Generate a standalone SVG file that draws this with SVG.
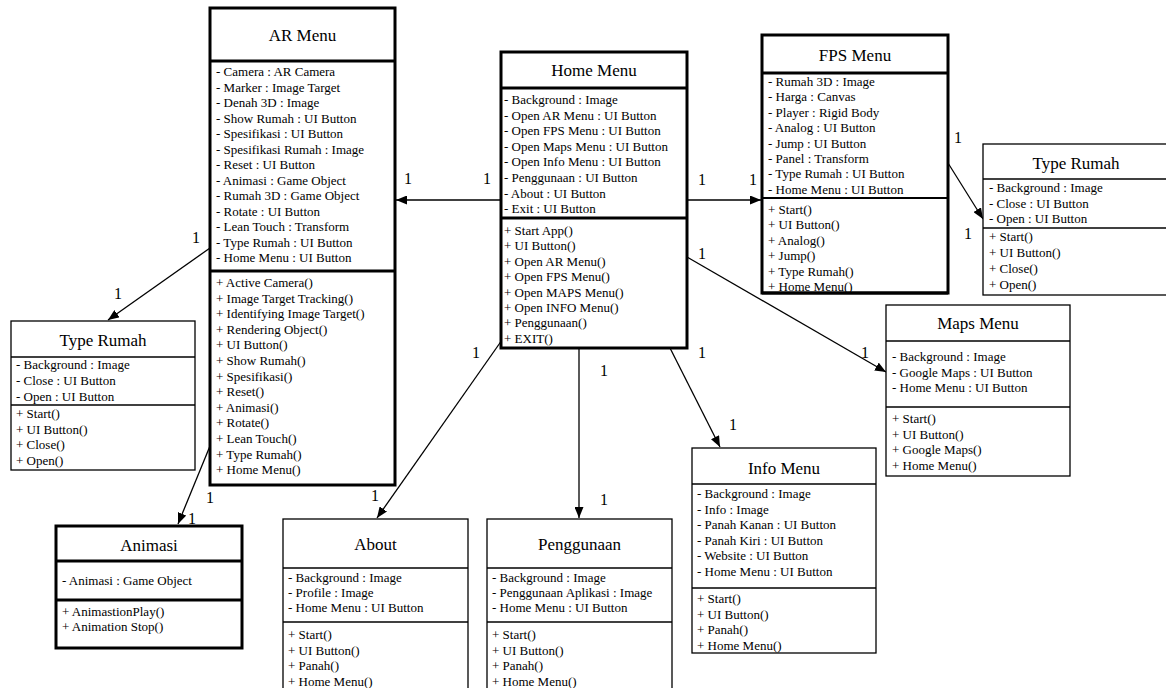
<svg xmlns="http://www.w3.org/2000/svg" width="1166" height="688" viewBox="0 0 1166 688">
<defs>
<marker id="arr" markerUnits="userSpaceOnUse" markerWidth="11" markerHeight="9" refX="11" refY="4.5" orient="auto">
<path d="M0,0 L11,4.5 L0,9 z" fill="#000"/>
</marker>
</defs>
<style>
text{font-family:"Liberation Serif","Times New Roman",serif;fill:#000}
.t{font-size:17px;text-anchor:middle}
.a{font-size:13px}
.m{font-size:16px;text-anchor:middle}
.bx{fill:#fff;stroke:#000}
.thick{stroke-width:3}
.thin{stroke-width:1.3}
.ln{stroke:#000;fill:none}
.c{stroke:#000;stroke-width:1.3;fill:none;marker-end:url(#arr)}
</style>
<rect width="1166" height="688" fill="#fff"/>

<g id="connectors">
<line class="c" x1="501" y1="200" x2="396" y2="200"/>
<line class="c" x1="687" y1="200" x2="761" y2="200"/>
<line class="c" x1="948" y1="163" x2="983" y2="219"/>
<line class="c" x1="687" y1="257" x2="886" y2="372"/>
<line class="c" x1="670" y1="348" x2="720" y2="447"/>
<line class="c" x1="579" y1="348" x2="579" y2="518"/>
<line class="c" x1="502" y1="340" x2="377" y2="518"/>
<line class="c" x1="210" y1="248" x2="108" y2="320"/>
<line class="c" x1="210" y1="446" x2="178" y2="524"/>
<g id="labels">
<text class="m" x="408" y="184">1</text>
<text class="m" x="487" y="184">1</text>
<text class="m" x="702" y="185">1</text>
<text class="m" x="753" y="185">1</text>
<text class="m" x="958" y="143">1</text>
<text class="m" x="968" y="239">1</text>
<text class="m" x="702" y="259">1</text>
<text class="m" x="865" y="358">1</text>
<text class="m" x="702" y="358">1</text>
<text class="m" x="733" y="430">1</text>
<text class="m" x="604" y="376">1</text>
<text class="m" x="604" y="505">1</text>
<text class="m" x="476" y="358">1</text>
<text class="m" x="375" y="501">1</text>
<text class="m" x="196" y="243">1</text>
<text class="m" x="118" y="299">1</text>
<text class="m" x="210" y="503">1</text>
<text class="m" x="192" y="524">1</text>
</g>
</g>

<g id="ar-menu">
<rect class="bx thick" x="210" y="8" width="185" height="477"/>
<line class="ln thick" x1="210" y1="61" x2="395" y2="61"/>
<line class="ln thick" x1="210" y1="271" x2="395" y2="271"/>
<text class="t" x="302.5" y="40.5">AR Menu</text>
<text class="a" x="216" y="76">
<tspan x="216">- Camera : AR Camera</tspan>
<tspan x="216" dy="15.5">- Marker : Image Target</tspan>
<tspan x="216" dy="15.5">- Denah 3D : Image</tspan>
<tspan x="216" dy="15.5">- Show Rumah : UI Button</tspan>
<tspan x="216" dy="15.5">- Spesifikasi : UI Button</tspan>
<tspan x="216" dy="15.5">- Spesifikasi Rumah : Image</tspan>
<tspan x="216" dy="15.5">- Reset : UI Button</tspan>
<tspan x="216" dy="15.5">- Animasi : Game Object</tspan>
<tspan x="216" dy="15.5">- Rumah 3D : Game Object</tspan>
<tspan x="216" dy="15.5">- Rotate : UI Button</tspan>
<tspan x="216" dy="15.5">- Lean Touch : Transform</tspan>
<tspan x="216" dy="15.5">- Type Rumah : UI Button</tspan>
<tspan x="216" dy="15.5">- Home Menu : UI Button</tspan>
</text>
<text class="a" x="216" y="287">
<tspan x="216">+ Active Camera()</tspan>
<tspan x="216" dy="15.6">+ Image Target Tracking()</tspan>
<tspan x="216" dy="15.6">+ Identifying Image Target()</tspan>
<tspan x="216" dy="15.6">+ Rendering Object()</tspan>
<tspan x="216" dy="15.6">+ UI Button()</tspan>
<tspan x="216" dy="15.6">+ Show Rumah()</tspan>
<tspan x="216" dy="15.6">+ Spesifikasi()</tspan>
<tspan x="216" dy="15.6">+ Reset()</tspan>
<tspan x="216" dy="15.6">+ Animasi()</tspan>
<tspan x="216" dy="15.6">+ Rotate()</tspan>
<tspan x="216" dy="15.6">+ Lean Touch()</tspan>
<tspan x="216" dy="15.6">+ Type Rumah()</tspan>
<tspan x="216" dy="15.6">+ Home Menu()</tspan>
</text>
</g>

<g id="home-menu">
<rect class="bx thick" x="501" y="52" width="186" height="296"/>
<line class="ln thick" x1="501" y1="88" x2="687" y2="88"/>
<line class="ln thick" x1="501" y1="218" x2="687" y2="218"/>
<text class="t" x="594" y="75.5">Home Menu</text>
<text class="a" x="504" y="104">
<tspan x="504">- Background : Image</tspan>
<tspan x="504" dy="15.6">- Open AR Menu : UI Button</tspan>
<tspan x="504" dy="15.6">- Open FPS Menu : UI Button</tspan>
<tspan x="504" dy="15.6">- Open Maps Menu : UI Button</tspan>
<tspan x="504" dy="15.6">- Open Info Menu : UI Button</tspan>
<tspan x="504" dy="15.6">- Penggunaan : UI Button</tspan>
<tspan x="504" dy="15.6">- About : UI Button</tspan>
<tspan x="504" dy="15.6">- Exit : UI Button</tspan>
</text>
<text class="a" x="504" y="235">
<tspan x="504">+ Start App()</tspan>
<tspan x="504" dy="15.4">+ UI Button()</tspan>
<tspan x="504" dy="15.4">+ Open AR Menu()</tspan>
<tspan x="504" dy="15.4">+ Open FPS Menu()</tspan>
<tspan x="504" dy="15.4">+ Open MAPS Menu()</tspan>
<tspan x="504" dy="15.4">+ Open INFO Menu()</tspan>
<tspan x="504" dy="15.4">+ Penggunaan()</tspan>
<tspan x="504" dy="15.4">+ EXIT()</tspan>
</text>
</g>

<g id="fps-menu">
<rect class="bx thick" x="762" y="35" width="186" height="258"/>
<line class="ln thick" x1="762" y1="73" x2="948" y2="73"/>
<line class="ln" stroke-width="2" x1="762" y1="198" x2="948" y2="198"/>
<text class="t" x="855" y="60.5">FPS Menu</text>
<text class="a" x="768" y="86">
<tspan x="768">- Rumah 3D : Image</tspan>
<tspan x="768" dy="15.4">- Harga : Canvas</tspan>
<tspan x="768" dy="15.4">- Player : Rigid Body</tspan>
<tspan x="768" dy="15.4">- Analog : UI Button</tspan>
<tspan x="768" dy="15.4">- Jump : UI Button</tspan>
<tspan x="768" dy="15.4">- Panel : Transform</tspan>
<tspan x="768" dy="15.4">- Type Rumah : UI Button</tspan>
<tspan x="768" dy="15.4">- Home Menu : UI Button</tspan>
</text>
<text class="a" x="768" y="214">
<tspan x="768">+ Start()</tspan>
<tspan x="768" dy="15.4">+ UI Button()</tspan>
<tspan x="768" dy="15.4">+ Analog()</tspan>
<tspan x="768" dy="15.4">+ Jump()</tspan>
<tspan x="768" dy="15.4">+ Type Rumah()</tspan>
<tspan x="768" dy="15.4">+ Home Menu()</tspan>
</text>
<line class="ln thick" x1="762" y1="293" x2="948" y2="293"/>
</g>

<g id="type-rumah-right">
<rect class="bx thin" x="983" y="144" width="186" height="151"/>
<line class="ln thin" x1="983" y1="179" x2="1169" y2="179"/>
<line class="ln thin" x1="983" y1="228" x2="1169" y2="228"/>
<text class="t" x="1076" y="168.5">Type Rumah</text>
<text class="a" x="989" y="192">
<tspan x="989">- Background : Image</tspan>
<tspan x="989" dy="15.5">- Close : UI Button</tspan>
<tspan x="989" dy="15.5">- Open : UI Button</tspan>
</text>
<text class="a" x="989" y="241">
<tspan x="989">+ Start()</tspan>
<tspan x="989" dy="16">+ UI Button()</tspan>
<tspan x="989" dy="16">+ Close()</tspan>
<tspan x="989" dy="16">+ Open()</tspan>
</text>
</g>

<g id="type-rumah-left">
<rect class="bx thin" x="11" y="321" width="184" height="149"/>
<line class="ln thin" x1="11" y1="357" x2="195" y2="357"/>
<line class="ln thin" x1="11" y1="405" x2="195" y2="405"/>
<text class="t" x="103" y="345.5">Type Rumah</text>
<text class="a" x="16" y="369">
<tspan x="16">- Background : Image</tspan>
<tspan x="16" dy="16">- Close : UI Button</tspan>
<tspan x="16" dy="16">- Open : UI Button</tspan>
</text>
<text class="a" x="16" y="418">
<tspan x="16">+ Start()</tspan>
<tspan x="16" dy="15.7">+ UI Button()</tspan>
<tspan x="16" dy="15.7">+ Close()</tspan>
<tspan x="16" dy="15.7">+ Open()</tspan>
</text>
</g>

<g id="animasi">
<rect class="bx thick" x="56" y="526" width="186" height="122"/>
<line class="ln thick" x1="56" y1="561" x2="242" y2="561"/>
<line class="ln thick" x1="56" y1="600" x2="242" y2="600"/>
<text class="t" x="149" y="550.5">Animasi</text>
<text class="a" x="62" y="585">- Animasi : Game Object</text>
<text class="a" x="62" y="616">
<tspan x="62">+ AnimastionPlay()</tspan>
<tspan x="62" dy="15">+ Animation Stop()</tspan>
</text>
</g>

<g id="about">
<rect class="bx thin" x="283" y="519" width="185" height="175"/>
<line class="ln thin" x1="283" y1="568" x2="468" y2="568"/>
<line class="ln thin" x1="283" y1="622" x2="468" y2="622"/>
<text class="t" x="375.5" y="549.5">About</text>
<text class="a" x="288" y="582">
<tspan x="288">- Background : Image</tspan>
<tspan x="288" dy="15">- Profile : Image</tspan>
<tspan x="288" dy="15">- Home Menu : UI Button</tspan>
</text>
<text class="a" x="288" y="639">
<tspan x="288">+ Start()</tspan>
<tspan x="288" dy="15.7">+ UI Button()</tspan>
<tspan x="288" dy="15.7">+ Panah()</tspan>
<tspan x="288" dy="15.7">+ Home Menu()</tspan>
</text>
</g>

<g id="penggunaan">
<rect class="bx thin" x="487" y="519" width="185" height="175"/>
<line class="ln thin" x1="487" y1="568" x2="672" y2="568"/>
<line class="ln thin" x1="487" y1="622" x2="672" y2="622"/>
<text class="t" x="579.5" y="549.5">Penggunaan</text>
<text class="a" x="492" y="582">
<tspan x="492">- Background : Image</tspan>
<tspan x="492" dy="15">- Penggunaan Aplikasi : Image</tspan>
<tspan x="492" dy="15">- Home Menu : UI Button</tspan>
</text>
<text class="a" x="492" y="639">
<tspan x="492">+ Start()</tspan>
<tspan x="492" dy="15.7">+ UI Button()</tspan>
<tspan x="492" dy="15.7">+ Panah()</tspan>
<tspan x="492" dy="15.7">+ Home Menu()</tspan>
</text>
</g>

<g id="info-menu">
<rect class="bx thin" x="692" y="448" width="184" height="205"/>
<line class="ln thin" x1="692" y1="484" x2="876" y2="484"/>
<line class="ln thin" x1="692" y1="588" x2="876" y2="588"/>
<text class="t" x="784" y="473.5">Info Menu</text>
<text class="a" x="697" y="498">
<tspan x="697">- Background : Image</tspan>
<tspan x="697" dy="15.6">- Info : Image</tspan>
<tspan x="697" dy="15.6">- Panah Kanan : UI Button</tspan>
<tspan x="697" dy="15.6">- Panah Kiri : UI Button</tspan>
<tspan x="697" dy="15.6">- Website : UI Button</tspan>
<tspan x="697" dy="15.6">- Home Menu : UI Button</tspan>
</text>
<text class="a" x="697" y="603">
<tspan x="697">+ Start()</tspan>
<tspan x="697" dy="15.5">+ UI Button()</tspan>
<tspan x="697" dy="15.5">+ Panah()</tspan>
<tspan x="697" dy="15.5">+ Home Menu()</tspan>
</text>
</g>

<g id="maps-menu">
<rect class="bx thin" x="886" y="305" width="184" height="171"/>
<line class="ln thin" x1="886" y1="341" x2="1070" y2="341"/>
<line class="ln thin" x1="886" y1="407" x2="1070" y2="407"/>
<text class="t" x="978" y="328.5">Maps Menu</text>
<text class="a" x="892" y="361">
<tspan x="892">- Background : Image</tspan>
<tspan x="892" dy="15.5">- Google Maps : UI Button</tspan>
<tspan x="892" dy="15.5">- Home Menu : UI Button</tspan>
</text>
<text class="a" x="892" y="423">
<tspan x="892">+ Start()</tspan>
<tspan x="892" dy="15.7">+ UI Button()</tspan>
<tspan x="892" dy="15.7">+ Google Maps()</tspan>
<tspan x="892" dy="15.7">+ Home Menu()</tspan>
</text>
</g>
</svg>
